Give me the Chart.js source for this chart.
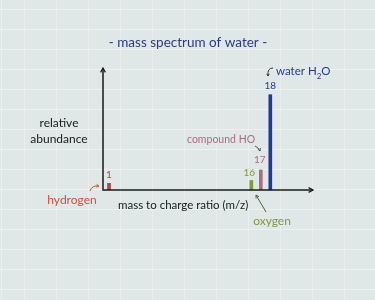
<!DOCTYPE html>
<html>
<head>
<meta charset="utf-8">
<script src="https://cdn.jsdelivr.net/npm/chart.js@4"></script>
<style>
  html, body { margin: 0; padding: 0; }
  body {
    width: 375px; height: 300px; overflow: hidden;
    background-color: #dfe7e7;
    background-image:
      repeating-linear-gradient(0deg, rgba(255,255,255,0.40) 0px, rgba(255,255,255,0.40) 1px, transparent 1px, transparent 20px),
      repeating-linear-gradient(90deg, rgba(255,255,255,0.30) 0px, rgba(255,255,255,0.30) 1px, transparent 1px, transparent 32px);
    background-position: 0 10px, 24px 0;
  }
  #wrap { position: absolute; left: 0; top: 0; width: 375px; height: 300px; }
</style>
</head>
<body>
<div id="wrap"><canvas id="c" width="375" height="300"></canvas></div>
<script>
// ---- data ----
const massToCharge = [1, 16, 17, 18];
const relativeAbundance = [7, 10, 21, 100];
const peakLabels = ['1', '16', '17', '18'];
const speciesNames = ['hydrogen', 'oxygen', 'compound HO', 'water H2O'];
const chartTitle = '- mass spectrum of water -';
const xAxisTitle = 'mass to charge ratio (m/z)';
const yAxisTitle = ['relative', 'abundance'];

const peakColors = ['#b8404a', '#7f9a3c', '#b06a80', '#1f3b9c'];
const nameColors = ['#d0503c', '#7f9a3c', '#b06a80', '#1f3b9c'];

const FONT = 'Lato, "Noto Sans", sans-serif';

function arrowHead(ctx, x, y, ang, size) {
  ctx.beginPath();
  ctx.moveTo(x - size * Math.cos(ang - 0.5), y - size * Math.sin(ang - 0.5));
  ctx.lineTo(x, y);
  ctx.lineTo(x - size * Math.cos(ang + 0.5), y - size * Math.sin(ang + 0.5));
  ctx.stroke();
}

const decor = {
  id: 'decor',
  afterDatasetsDraw(chart) {
    const ctx = chart.ctx;
    const ca = chart.chartArea;
    const xs = chart.scales.x, ys = chart.scales.y;
    ctx.save();
    // axes with arrows
    ctx.strokeStyle = '#1a1a1a';
    ctx.lineWidth = 1.5;
    ctx.beginPath();
    ctx.moveTo(ca.left, ca.top);
    ctx.lineTo(ca.left, ca.bottom);
    ctx.lineTo(ca.right, ca.bottom);
    ctx.stroke();
    ctx.lineWidth = 1.2;
    arrowHead(ctx, ca.left, ca.top, -Math.PI / 2, 5);
    arrowHead(ctx, ca.right, ca.bottom, 0, 5);

    // title
    ctx.textAlign = 'center';
    ctx.textBaseline = 'middle';
    ctx.fillStyle = '#2b3a86';
    ctx.font = '13.5px ' + FONT;
    ctx.fillText(chartTitle, 188, 43);

    // axis titles
    ctx.fillStyle = '#1a1a1a';
    ctx.font = '12px ' + FONT;
    ctx.fillText(yAxisTitle[0], 59, 123);
    ctx.fillText(yAxisTitle[1], 59, 139);
    ctx.textAlign = 'left';
    ctx.font = '11.5px ' + FONT;
    ctx.fillText(xAxisTitle, 118, 205);

    // peak labels
    ctx.font = '10px ' + FONT;
    ctx.textAlign = 'center';
    const off = [[0, -9], [-2, -8], [-1, -10], [0, -9]];
    for (let i = 0; i < massToCharge.length; i++) {
      const px = xs.getPixelForValue(massToCharge[i]);
      const py = ys.getPixelForValue(relativeAbundance[i]);
      ctx.fillStyle = peakColors[i];
      ctx.fillText(peakLabels[i], px + off[i][0], py + off[i][1]);
    }

    ctx.lineWidth = 1;

    // hydrogen
    ctx.font = '12px ' + FONT;
    ctx.fillStyle = nameColors[0];
    ctx.textAlign = 'center';
    ctx.fillText(speciesNames[0], 72, 200);
    ctx.strokeStyle = nameColors[0];
    ctx.beginPath();
    ctx.moveTo(90, 191);
    ctx.quadraticCurveTo(92, 185, 99, 186);
    ctx.stroke();
    arrowHead(ctx, 99, 186, 0.1, 3);

    // oxygen
    ctx.fillStyle = nameColors[1];
    ctx.fillText(speciesNames[1], 272, 221);
    ctx.strokeStyle = '#556040';
    ctx.beginPath();
    ctx.moveTo(266, 212);
    ctx.lineTo(256, 195);
    ctx.stroke();
    arrowHead(ctx, 256, 195, Math.atan2(-17, -10), 3.5);

    // compound HO
    ctx.fillStyle = nameColors[2];
    ctx.textAlign = 'left';
    ctx.font = '10.5px ' + FONT;
    ctx.fillText('compound HO', 187, 140);
    ctx.strokeStyle = '#555';
    ctx.beginPath();
    ctx.moveTo(255, 146);
    ctx.quadraticCurveTo(258, 147, 260, 151);
    ctx.stroke();
    arrowHead(ctx, 260, 151, 1.2, 3);

    // water H2O
    ctx.font = '11.5px ' + FONT;
    ctx.fillStyle = nameColors[3];
    ctx.fillText('water H', 276, 71);
    let w = ctx.measureText('water H').width;
    ctx.font = '8px ' + FONT;
    ctx.fillText('2', 276 + w, 76);
    let w2 = ctx.measureText('2').width;
    ctx.font = '11.5px ' + FONT;
    ctx.fillText('O', 276 + w + w2, 71);
    ctx.strokeStyle = '#333';
    ctx.beginPath();
    ctx.moveTo(273, 68);
    ctx.quadraticCurveTo(267, 68, 268, 76);
    ctx.stroke();
    arrowHead(ctx, 268, 76, 1.6, 2.5);

    ctx.restore();
  }
};

new Chart(document.getElementById('c'), {
  type: 'bar',
  data: {
    datasets: [{
      data: massToCharge.map((m, i) => ({ x: m, y: relativeAbundance[i] })),
      backgroundColor: peakColors,
      barThickness: 3,
      borderWidth: 0
    }]
  },
  options: {
    responsive: false,
    animation: false,
    layout: { padding: { left: 103, right: 62, top: 68, bottom: 110 } },
    plugins: { legend: { display: false }, tooltip: { enabled: false }, title: { display: false } },
    scales: {
      x: { type: 'linear', min: 0.37, max: 22.5, display: false, offset: false },
      y: { min: 0, max: 128, display: false }
    }
  },
  plugins: [decor]
});
</script>
</body>
</html>
